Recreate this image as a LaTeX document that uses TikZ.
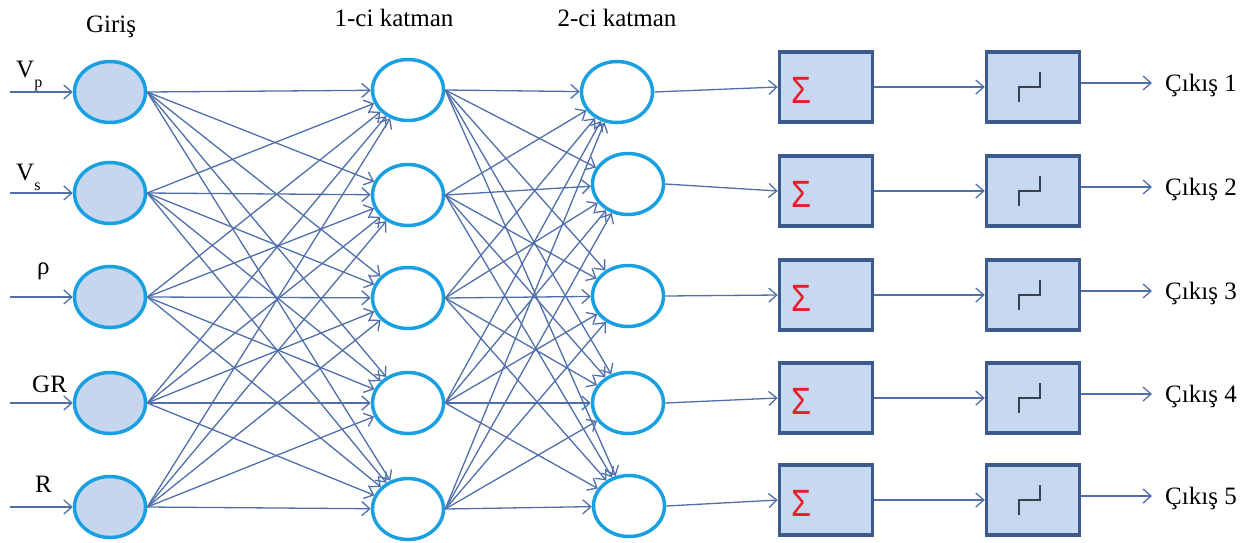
\documentclass[tikz,border=0pt]{standalone}
\usepackage{fontspec}
\setmainfont{Liberation Serif}
\newfontfamily\sigfont{Liberation Sans}
\usetikzlibrary{arrows.meta,shapes.geometric}
\definecolor{ring}{RGB}{25,160,225}
\definecolor{wire}{RGB}{80,110,170}
\definecolor{infill}{RGB}{197,214,238}
\definecolor{boxfill}{RGB}{198,217,241}
\definecolor{boxline}{RGB}{60,90,140}
\definecolor{sig}{RGB}{230,30,40}
\definecolor{glyphc}{RGB}{55,65,80}
\begin{document}
\begin{tikzpicture}[x=1pt,y=-1pt,
  neuron/.style={ellipse, draw=ring, line width=3.5pt, minimum width=71pt, minimum height=61pt, inner sep=0pt},
  inneuron/.style={neuron, fill=infill},
  blockbox/.style={rectangle, draw=boxline, fill=boxfill, line width=3.5pt, minimum width=93pt, minimum height=70pt, inner sep=0pt},
  wire/.style={draw=wire, line width=1.3pt, -{Straight Barb[length=8pt,width=14pt,line width=1.3pt]}},
  lbl/.style={font=\fontsize{25}{30}\selectfont, inner sep=0pt, text=black},
  sigma/.style={text=sig, font=\sigfont\fontsize{38}{38}\selectfont, inner sep=0pt, xscale=0.85},
  glyph/.style={draw=glyphc, line width=2.2pt}
]
\useasboundingbox (0,0) rectangle (1246,542);

% input layer
\foreach \y [count=\i] in {92,193,297,403,507}{
  \node[inneuron] (i\i) at (110,\y) {};
  \coordinate (in\i) at (10,\y);
  \draw[wire] (in\i) -- (i\i.west);
}
% hidden layer 1
\foreach \y [count=\i] in {90,195,298,403,509}
  \node[neuron] (h\i) at (408,\y) {};
% hidden layer 2
\node[neuron] (g1) at (617,92) {};
\node[neuron] (g2) at (628,184) {};
\node[neuron] (g3) at (628,296) {};
\node[neuron] (g4) at (628,403) {};
\node[neuron] (g5) at (629,506) {};

% sum and step blocks
\foreach \y [count=\i] in {87,191,295,398,500}{
  \node[blockbox] (s\i) at (826,\y) {};
  \node[blockbox] (t\i) at (1033,\y) {};
  \node[sigma] (sg\i) at ([xshift=-25pt,yshift=-3pt]s\i.center) {Σ};
  \draw[glyph] (t\i) ++(-14,15) -- ++(0,-15) -- ++(21,0) -- ++(0,-15);
  \coordinate (o\i) at (1152,\y-4);
  \draw[wire] (g\i.east) -- (s\i.west);
  \draw[wire] (s\i.east) -- (t\i.west);
  \draw[wire] ([yshift=4pt]t\i.east) -- (o\i);
  \node[lbl, anchor=base west] (out\i) at (1165,\y+4) {Çıkış \i};
}

% full connections
\foreach \a in {1,...,5}{
  \foreach \b in {1,...,5}{
    \draw[wire] (i\a.east) -- (h\b);
    \draw[wire] (h\a.east) -- (g\b);
  }
}

% titles
\node[lbl, anchor=base] (tin) at (111,32) {Giriş};
\node[lbl, anchor=base] (th1) at (394,26) {1-ci katman};
\node[lbl, anchor=base] (th2) at (617,26) {2-ci katman};

% input labels
\node[lbl, anchor=base west] (lvp) at (16,77) {V\raisebox{-10pt}{\fontsize{16}{16}\selectfont p}};
\node[lbl, anchor=base west] (lvs) at (16,180) {V\raisebox{-10pt}{\fontsize{16}{16}\selectfont s}};
\node[lbl, anchor=base west] (lrho) at (37,274) {ρ};
\node[lbl, anchor=base west] (lgr) at (32,392) {GR};
\node[lbl, anchor=base west] (lr) at (35,492) {R};
\end{tikzpicture}
\end{document}
